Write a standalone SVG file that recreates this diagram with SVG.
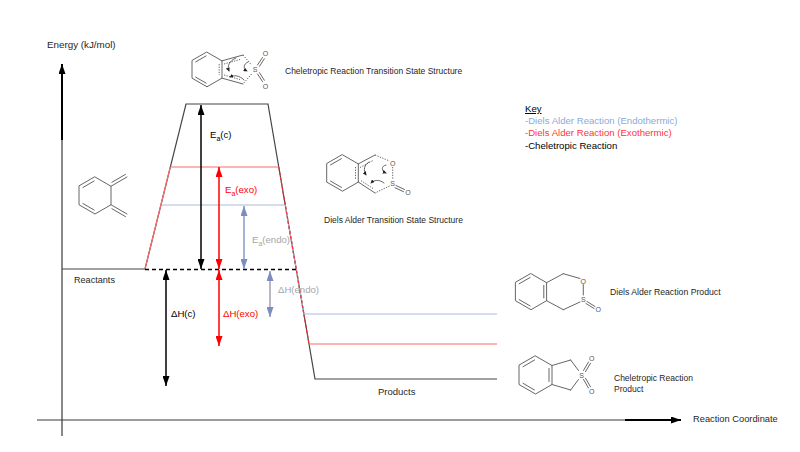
<svg xmlns="http://www.w3.org/2000/svg" width="800" height="452" viewBox="0 0 800 452">
<defs>
<style>
.lbl{font-family:"Liberation Sans",Arial,sans-serif}
.ax{stroke:#3a3a3a;stroke-width:1.2;fill:none}
.lvl{stroke:#444;stroke-width:1.2;fill:none}
.red{stroke:#ff6a6a;stroke-width:1.2;fill:none}
.blu{stroke:#aabbd8;stroke-width:1.2;fill:none}
.mol{stroke:#555;stroke-width:0.9;fill:none;stroke-linecap:round}
.dot{stroke:#555;stroke-width:0.9;fill:none;stroke-dasharray:1.3,1.3}
.atom{font-family:"Liberation Sans",Arial,sans-serif;font-size:7px;fill:#555;text-anchor:middle}
.arl{font-family:"Liberation Sans",Arial,sans-serif;font-size:9.6px}
</style>
<marker id="mk" markerUnits="userSpaceOnUse" markerWidth="10" markerHeight="7" viewBox="0 0 10 7" refX="10" refY="3.5" orient="auto-start-reverse"><path d="M0,0 L10,3.5 L0,7 z" fill="#000"/></marker>
<marker id="mr" markerUnits="userSpaceOnUse" markerWidth="10" markerHeight="7" viewBox="0 0 10 7" refX="10" refY="3.5" orient="auto-start-reverse"><path d="M0,0 L10,3.5 L0,7 z" fill="#ff0000"/></marker>
<marker id="mb" markerUnits="userSpaceOnUse" markerWidth="10" markerHeight="7" viewBox="0 0 10 7" refX="10" refY="3.5" orient="auto-start-reverse"><path d="M0,0 L10,3.5 L0,7 z" fill="#7d8dbf"/></marker>
<marker id="mc" markerUnits="userSpaceOnUse" markerWidth="4" markerHeight="4" viewBox="0 0 6 6" refX="5" refY="3" orient="auto"><path d="M0,0 L6,3 L0,6 z" fill="#222"/></marker>
<marker id="ma" markerUnits="userSpaceOnUse" markerWidth="10" markerHeight="7" viewBox="0 0 10 7" refX="10" refY="3.5" orient="auto"><path d="M0,0 L10,3.5 L0,7 z" fill="#000"/></marker>
</defs>
<rect width="800" height="452" fill="#fff"/>

<g id="axes">
<line class="ax" x1="62" y1="436" x2="62" y2="140"/>
<line x1="62" y1="140" x2="62" y2="64" stroke="#000" stroke-width="2" marker-end="url(#ma)"/>
<line class="ax" x1="37" y1="420" x2="625" y2="420"/>
<line x1="625" y1="420" x2="681" y2="420" stroke="#000" stroke-width="2" marker-end="url(#ma)"/>
<text class="lbl" x="47" y="48" font-size="9.8" fill="#262626">Energy (kJ/mol)</text>
<text class="lbl" x="693" y="422" font-size="9.3" fill="#262626">Reaction Coordinate</text>
</g>

<g id="connectors">
<polyline class="lvl" points="62,269 145,269 186,104 268,104 315,379 497,379"/>
<line class="red" x1="170.3" y1="167" x2="278.8" y2="167"/>
<line class="blu" x1="160.9" y1="205" x2="285.3" y2="205"/>
<line class="blu" x1="303.9" y1="314" x2="497" y2="314"/>
<line class="red" x1="309" y1="344" x2="497" y2="344"/>
<line class="red" x1="145" y1="269" x2="170.3" y2="167"/>
<line class="blu" x1="285.3" y1="205" x2="303.9" y2="314"/>
<line x1="278.8" y1="167" x2="309" y2="344" stroke="#ff2a2a" stroke-width="1.2" stroke-dasharray="3,2"/>
<line x1="145" y1="269.5" x2="297" y2="269.5" stroke="#000" stroke-width="1.3" stroke-dasharray="4,3"/>
<line x1="201" y1="105" x2="201" y2="269" stroke="#000" stroke-width="1.5" marker-start="url(#mk)" marker-end="url(#mk)"/>
<line x1="219" y1="167" x2="219" y2="269" stroke="#ff0000" stroke-width="1.5" marker-start="url(#mr)" marker-end="url(#mr)"/>
<line x1="244" y1="206" x2="244" y2="269" stroke="#8a9ac6" stroke-width="1.5" marker-start="url(#mb)" marker-end="url(#mb)"/>
<line x1="166" y1="270" x2="166" y2="386" stroke="#000" stroke-width="1.5" marker-start="url(#mk)" marker-end="url(#mk)"/>
<line x1="219" y1="270" x2="219" y2="346" stroke="#ff0000" stroke-width="1.5" marker-start="url(#mr)" marker-end="url(#mr)"/>
<line x1="270" y1="271" x2="270" y2="317" stroke="#a0a0b0" stroke-width="1.5" marker-start="url(#mb)" marker-end="url(#mb)"/>
<text class="arl" x="210" y="138" fill="#000">E<tspan font-size="7" dy="2.5">a</tspan><tspan dy="-2.5">(c)</tspan></text>
<text class="arl" x="225" y="193" fill="#ff0000">E<tspan font-size="7" dy="2.5">a</tspan><tspan dy="-2.5">(exo)</tspan></text>
<text class="arl" x="252" y="243" fill="#a6a6a6">E<tspan font-size="7" dy="2.5">a</tspan><tspan dy="-2.5">(endo)</tspan></text>
<text class="arl" x="171" y="317" fill="#000">ΔH(c)</text>
<text class="arl" x="223" y="317" fill="#ff0000">ΔH(exo)</text>
<text class="arl" x="278" y="293" fill="#a6a6a6">ΔH(endo)</text>
<text class="lbl" x="74" y="283" font-size="9.1" fill="#262626">Reactants</text>
<text class="lbl" x="378" y="395" font-size="9.5" fill="#262626">Products</text>
</g>

<g id="key">
<text class="lbl" x="525" y="112" font-size="9.6" text-decoration="underline" fill="#000">Key</text>
<text class="lbl" x="525" y="124" font-size="9.6" fill="#8ea9d8">-Diels Alder Reaction (Endothermic)</text>
<text class="lbl" x="525" y="136" font-size="9.6" fill="#ff3535">-Diels Alder Reaction (Exothermic)</text>
<text class="lbl" x="525" y="148.5" font-size="9.6" fill="#000">-Cheletropic Reaction</text>
</g>

<g id="reactant">
<polygon class="mol" points="95,177 111,186.25 111,204.75 95,214 79,204.75 79,186.25"/>
<line class="mol" x1="82.9" y1="187.5" x2="94.1" y2="181"/>
<line class="mol" x1="82.9" y1="203.5" x2="94.1" y2="210"/>
<line class="mol" x1="111" y1="186.25" x2="127" y2="177"/>
<line class="mol" x1="111.9" y1="182.3" x2="125.5" y2="174.4"/>
<line class="mol" x1="111" y1="204.75" x2="127" y2="214"/>
<line class="mol" x1="111.9" y1="208.7" x2="125.5" y2="216.6"/>
</g>

<g id="cheletropic-ts">
<polygon class="mol" points="207,52.2 222,60.85 222,78.15 207,86.8 192,78.15 192,60.85"/>
<line class="mol" x1="195.6" y1="61.9" x2="206.1" y2="55.9"/>
<line class="mol" x1="195.6" y1="77.1" x2="206.1" y2="83.1"/>
<line class="dot" x1="219.2" y1="64" x2="219.2" y2="75"/>
<line class="mol" x1="222" y1="60.85" x2="243" y2="55"/>
<line class="dot" x1="224" y1="64" x2="240" y2="59.5"/>
<line class="dot" x1="243" y1="55" x2="251.5" y2="65"/>
<line class="dot" x1="251.5" y1="74" x2="243" y2="84"/>
<line class="mol" x1="243" y1="84" x2="222" y2="78.15"/>
<line class="dot" x1="224" y1="75" x2="240" y2="79.5"/>
<text class="atom" x="255" y="72">S</text>
<line class="mol" x1="257.5" y1="65" x2="262.5" y2="57.5"/>
<line class="mol" x1="259.5" y1="66.3" x2="264.3" y2="58.8"/>
<line class="mol" x1="257.5" y1="74" x2="262.5" y2="81.5"/>
<line class="mol" x1="259.5" y1="72.7" x2="264.3" y2="80.2"/>
<text class="atom" x="265.5" y="55.5">O</text>
<text class="atom" x="265.5" y="88.5">O</text>
<path d="M236,58 C229,61 227,66 229,71" class="mol" stroke="#222" marker-end="url(#mc)"/>
<path d="M248,62 C243,64 243,69 247,71" class="mol" stroke="#222" marker-end="url(#mc)"/>
<path d="M244,80 C239,75 234,75 230,77" class="mol" stroke="#222" marker-end="url(#mc)"/>
<text class="lbl" x="285" y="74" font-size="8.5" fill="#262626">Cheletropic Reaction Transition State Structure</text>
</g>

<g id="diels-alder-ts">
<polygon class="mol" points="342.5,154.8 358.3,163.9 358.3,182.1 342.5,191.2 326.7,182.1 326.7,163.9"/>
<line class="mol" x1="330.5" y1="164.9" x2="341.5" y2="158.6"/>
<line class="mol" x1="330.5" y1="181.1" x2="341.5" y2="187.4"/>
<line class="dot" x1="355.5" y1="167" x2="355.5" y2="179"/>
<line class="mol" x1="358.3" y1="163.9" x2="375" y2="155"/>
<line class="dot" x1="360" y1="167.5" x2="373" y2="160.5"/>
<line class="dot" x1="375" y1="155" x2="389.5" y2="161"/>
<line class="dot" x1="392.7" y1="167" x2="392.7" y2="179"/>
<line class="dot" x1="389.5" y1="186" x2="375" y2="193"/>
<line class="mol" x1="375" y1="193" x2="358.3" y2="182.1"/>
<line class="dot" x1="373" y1="188.5" x2="360" y2="180"/>
<text class="atom" x="392.7" y="166">O</text>
<text class="atom" x="392.7" y="186">S</text>
<line class="mol" x1="396" y1="185.5" x2="404.5" y2="189.5"/>
<line class="mol" x1="395" y1="187.7" x2="403.5" y2="191.7"/>
<text class="atom" x="408" y="194.5">O</text>
<path d="M369,162 C364,165 363,170 366,175" class="mol" stroke="#222" marker-end="url(#mc)"/>
<path d="M386,165 C381,166 381,171 386,173" class="mol" stroke="#222" marker-end="url(#mc)"/>
<path d="M384,183 C379,179 374,180 371,183" class="mol" stroke="#222" marker-end="url(#mc)"/>
<text class="lbl" x="324" y="223" font-size="8.5" fill="#262626">Diels Alder Transition State Structure</text>
</g>

<g id="diels-alder-product">
<polygon class="mol" points="531,273.7 546.6,282.7 546.6,300.7 531,309.7 515.4,300.7 515.4,282.7"/>
<line class="mol" x1="519.1" y1="283.8" x2="530.1" y2="277.5"/>
<line class="mol" x1="519.1" y1="299.6" x2="530.1" y2="305.9"/>
<line class="mol" x1="543.8" y1="285.4" x2="543.8" y2="298"/>
<line class="mol" x1="546.6" y1="282.7" x2="563.3" y2="273.7"/>
<line class="mol" x1="563.3" y1="273.7" x2="580" y2="278.5"/>
<line class="mol" x1="583.3" y1="284.5" x2="583.3" y2="295"/>
<line class="mol" x1="580" y1="302" x2="563.3" y2="309.7"/>
<line class="mol" x1="563.3" y1="309.7" x2="546.6" y2="300.7"/>
<text class="atom" x="583.3" y="283.5">O</text>
<text class="atom" x="583.3" y="302">S</text>
<line class="mol" x1="587" y1="301.5" x2="595" y2="306.5"/>
<line class="mol" x1="586" y1="303.5" x2="594" y2="308.5"/>
<text class="atom" x="598.3" y="312">O</text>
<text class="lbl" x="610" y="295" font-size="8.7" fill="#262626">Diels Alder Reaction Product</text>
</g>

<g id="cheletropic-product">
<polygon class="mol" points="535.5,356 552,365.5 552,384.5 535.5,394 519,384.5 519,365.5"/>
<line class="mol" x1="523" y1="366.7" x2="534.5" y2="360"/>
<line class="mol" x1="523" y1="383.3" x2="534.5" y2="390"/>
<line class="mol" x1="549" y1="368.5" x2="549" y2="381.5"/>
<line class="mol" x1="552" y1="365.5" x2="570.7" y2="360"/>
<line class="mol" x1="570.7" y1="360" x2="578.5" y2="370.5"/>
<line class="mol" x1="578.5" y1="379.5" x2="570.7" y2="390"/>
<line class="mol" x1="570.7" y1="390" x2="552" y2="384.5"/>
<text class="atom" x="581.7" y="377.5">S</text>
<line class="mol" x1="583.5" y1="370.5" x2="588.5" y2="362"/>
<line class="mol" x1="585.5" y1="371.7" x2="590.5" y2="363.2"/>
<line class="mol" x1="583.5" y1="379.5" x2="588.5" y2="388"/>
<line class="mol" x1="585.5" y1="378.3" x2="590.5" y2="386.8"/>
<text class="atom" x="591.7" y="360.5">O</text>
<text class="atom" x="591.7" y="394">O</text>
<text class="lbl" x="614" y="381" font-size="8.5" fill="#262626">Cheletropic Reaction</text>
<text class="lbl" x="614" y="392" font-size="8.5" fill="#262626">Product</text>
</g>
</svg>
